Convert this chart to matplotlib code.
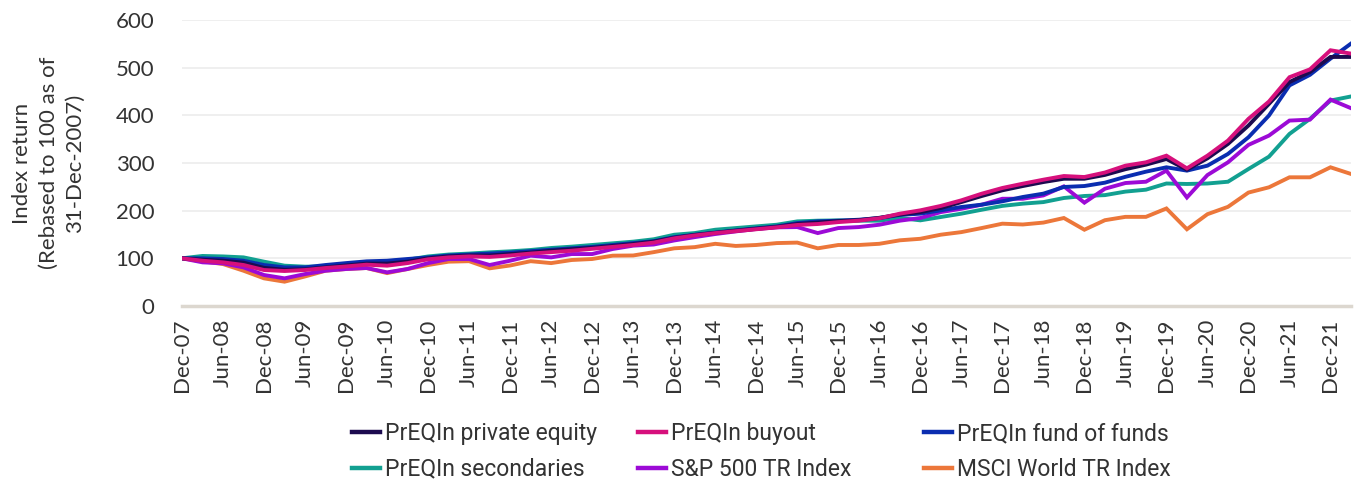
import matplotlib
matplotlib.use("Agg")
import matplotlib.pyplot as plt
from matplotlib.lines import Line2D
import numpy as np

# quarterly observations, Dec-07 .. Mar-22
quarters = []
for year in range(2007, 2023):
    for month in ("Mar", "Jun", "Sep", "Dec"):
        quarters.append(f"{month}-{str(year)[2:]}")
quarters = quarters[quarters.index("Dec-07"):quarters.index("Mar-22") + 1]

private_equity = [
    100, 97, 95, 91, 80, 76, 77, 81, 85, 89, 89, 93, 100, 104, 106, 106, 109, 112, 116, 119,
    122, 126, 130, 135, 143, 149, 153.5, 158, 162, 166, 172, 175, 178, 180, 185, 192, 197, 205.6,
    218, 230.8, 242.7, 251.7, 260, 267, 267, 275, 287, 296.5, 308.4, 286, 309.8, 340, 378.6, 424,
    469.8, 490.9, 522.5, 522.5,
]
buyout = [
    100, 95, 91.6, 86, 75.5, 73.4, 75.5, 79.7, 83, 86.7, 84.6, 90, 98, 102, 104, 103, 106, 110,
    113, 116, 120, 124, 128, 133, 142, 148, 153, 157, 161, 165, 170, 172, 176, 179, 184, 193.7,
    200.7, 210, 221.7, 235.7, 247.6, 256.6, 265, 272.7, 270.6, 280, 294.4, 301.4, 315.4, 288.8,
    315.4, 347, 392.6, 429, 480, 496.5, 536.5, 529.5,
]
fund_of_funds = [
    100, 100, 98.6, 95, 86, 81, 81, 86, 90, 93.7, 95, 98.6, 102, 106, 108, 110, 112, 115, 118,
    121, 124, 128, 132, 136, 144.5, 149.5, 154, 158.6, 163, 167, 174, 177.5, 179, 181, 184.5, 191,
    193.7, 200.7, 207.7, 212.6, 219.6, 228.7, 235.7, 249.7, 251.7, 258.7, 271, 281.8, 291, 284,
    294.4, 319, 354, 399.6, 462.8, 485, 519, 550.5,
]
secondaries = [
    100, 105, 104, 102, 93, 84.6, 82.5, 83, 86, 90, 93.7, 97, 104, 108, 110, 112.6, 114.7, 117.5,
    121.7, 124.5, 128, 131.5, 135, 140, 149.5, 153, 160, 163.5, 167, 170.5, 177.5, 179, 179.6, 179,
    179, 184.6, 179.7, 186.7, 193.7, 202, 210, 214.7, 218, 226.6, 230.8, 232.6, 240, 244, 257, 256,
    257, 260.7, 287.4, 313.3, 361, 392.6, 431, 439.6,
]
sp500 = [
    100, 91.6, 89.5, 81, 65, 58, 67, 74, 77.6, 79.7, 70.6, 77.6, 90, 98.6, 98.6, 86, 95, 105.6,
    102, 109, 109, 119.6, 126.6, 129, 137.5, 144.5, 151, 156.5, 161.5, 165, 165.6, 153, 163.5,
    165.6, 170.5, 179, 184.6, 197, 204, 212.6, 225, 225, 232, 251, 216.8, 246, 258, 260.7, 284,
    227.7, 274.7, 301.4, 338, 357.5, 389, 391, 433, 415,
]
msci_world = [
    100, 93.7, 88, 74, 58, 51, 62, 74, 77.6, 79.7, 69, 77.6, 86, 93, 94, 79, 85, 94, 90, 96.5,
    98.6, 105.6, 106, 113, 121, 123.5, 130.5, 126, 128, 132, 133, 121, 128, 128, 130.5, 137.8, 141,
    149.6, 155, 163.6, 172.7, 171, 175, 184.6, 160, 180, 187, 187, 204.6, 161, 192.6, 208, 238,
    249, 270, 270, 291, 277,
]

series_names = [
    "PrEQIn private equity", "PrEQIn buyout", "PrEQIn fund of funds",
    "PrEQIn secondaries", "S&P 500 TR Index", "MSCI World TR Index",
]
series_values = [private_equity, buyout, fund_of_funds, secondaries, sp500, msci_world]
COLORS = ["#1c0b4f", "#d6107c", "#0a2db0", "#12a091", "#9c0ad6", "#ec773a"]

TEXT_COLOR = "#333333"


def main() -> None:
    plt.rcParams.update({"font.family": "Lato", "font.size": 16})

    fig = plt.figure(figsize=(13.62, 4.8), dpi=100)
    ax = fig.add_axes([182 / 1362, 1 - 306 / 480, (1351 - 182) / 1362, (306 - 20) / 480])

    x = np.arange(len(quarters))
    # draw back to front so the private equity indices sit on top
    draw_order = [5, 3, 4, 2, 0, 1]
    for k in draw_order:
        ax.plot(x, series_values[k], color=COLORS[k], linewidth=2.8,
                solid_joinstyle="miter", label=series_names[k])

    ax.set_xlim(0, len(quarters) - 1)
    ax.set_ylim(0, 600)
    ax.set_yticks(np.arange(0, 601, 100))
    ax.set_xticks(x[::2])
    ax.set_xticklabels(quarters[::2], rotation=90)
    ax.tick_params(axis="both", length=0, colors=TEXT_COLOR, labelsize=16)
    ax.tick_params(axis="y", pad=20)
    ax.tick_params(axis="x", pad=9)

    for spine in ("top", "right", "left"):
        ax.spines[spine].set_visible(False)
    ax.spines["bottom"].set_color("#dcd7cf")
    ax.spines["bottom"].set_linewidth(2.5)
    ax.grid(axis="y", color="#ececec", linewidth=1.2)
    ax.set_axisbelow(True)

    ax.set_ylabel("Index return\n(Rebased to 100 as of\n31-Dec-2007)", color=TEXT_COLOR,
                  fontsize=16, labelpad=22, linespacing=1.4)

    # three legend columns placed independently, like the source layout
    col_x = [352 / 1362, 638 / 1362, 924 / 1362]
    col_items = [(0, 3), (1, 4), (2, 5)]
    for cx, (a, b) in zip(col_x, col_items):
        proxies = [Line2D([], [], color=COLORS[a], linewidth=3.2),
                   Line2D([], [], color=COLORS[b], linewidth=3.2)]
        fig.legend(proxies, [series_names[a], series_names[b]], loc="upper left",
                   bbox_to_anchor=(cx, 1 - 422 / 480), frameon=False,
                   prop={"family": "Roboto", "size": 16.5},
                   handlelength=1.2, handletextpad=0.25, labelspacing=0.55,
                   borderpad=0, borderaxespad=0, labelcolor=TEXT_COLOR)

    fig.savefig("out.png", dpi=100)
    plt.close(fig)


if __name__ == "__main__":
    main()
